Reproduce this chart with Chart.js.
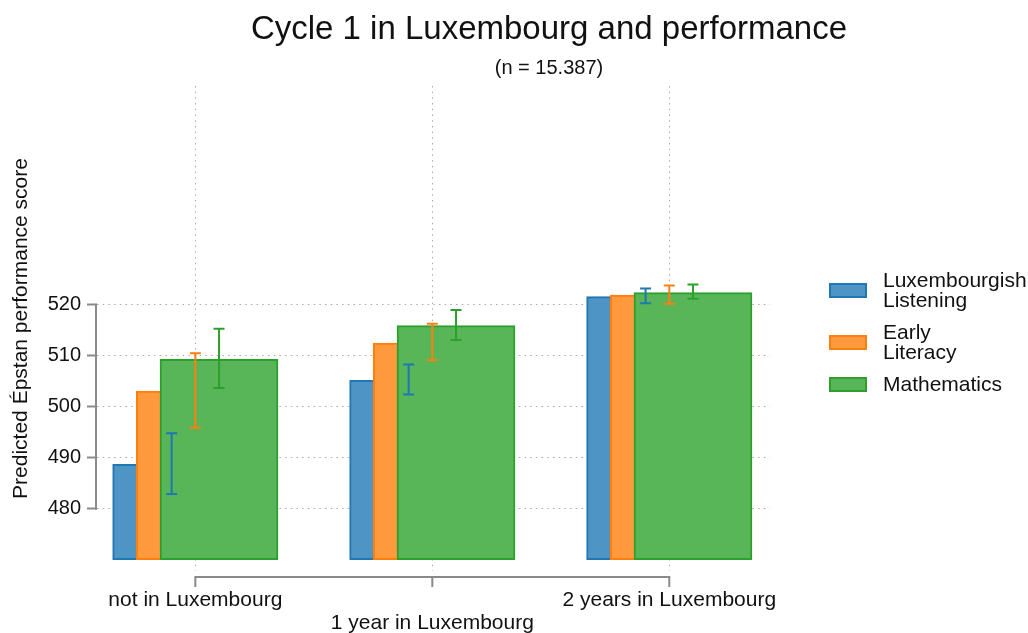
<!DOCTYPE html>
<html>
<head>
<meta charset="utf-8">
<title>Cycle 1 in Luxembourg and performance</title>
<script src="https://cdn.jsdelivr.net/npm/chart.js@4/dist/chart.umd.min.js"></script>
<style>
  body { margin: 0; background: #fff; font-family: "Liberation Sans", Arial, sans-serif; color: #111; }
  #wrap { position: relative; width: 1028px; height: 633px; overflow: hidden; }
  #chart { position: absolute; left: 0; top: 0; }
  #title { position: absolute; left: 49px; width: 1000px; top: 11px; text-align: center; font-size: 33px; line-height: 33px; }
  #subtitle { position: absolute; left: 49px; width: 1000px; top: 57px; text-align: center; font-size: 20px; line-height: 20px; }
  #legend { position: absolute; left: 829px; top: 270px; }
  .item { display: flex; align-items: center; margin-bottom: 12px; }
  .swatch { width: 34px; height: 11px; border: 2px solid; margin-right: 16px; }
  .label { font-size: 21px; line-height: 20px; }
</style>
</head>
<body>
<div id="wrap">
  <canvas id="chart" width="1028" height="633"></canvas>
  <div id="title">Cycle 1 in Luxembourg and performance</div>
  <div id="subtitle">(n = 15.387)</div>
  <div id="legend"></div>
</div>
<script>
// groups on the x axis
const categories = ["not in Luxembourg", "1 year in Luxembourg", "2 years in Luxembourg"];

// predicted scores per domain
const listening = [488.7, 505.2, 521.6];
const literacy = [503.1, 512.5, 521.9];
const maths = [509.3, 515.9, 522.4];

// confidence intervals [low, high]
const listeningCI = [[482.9, 494.8], [502.4, 508.3], [520.3, 523.2]];
const literacyCI = [[495.9, 510.5], [509.1, 516.3], [520.2, 523.8]];
const mathsCI = [[503.7, 515.3], [513.1, 519.0], [521.2, 524.0]];

const yTicks = [480, 490, 500, 510, 520];

const legendLabels = [["Luxembourgish", "Listening"], ["Early", "Literacy"], ["Mathematics"]];

// bars inside a group are shifted a little and overlap
const shift = [-0.1, 0, 0.1];
function points(values, k) {
  return values.map((v, i) => ({ x: i + shift[k], y: v }));
}

Chart.defaults.font.family = '"Liberation Sans", Arial, sans-serif';
Chart.defaults.color = "#111";

const series = [
  { label: "Luxembourgish Listening", values: listening, ci: listeningCI, fill: "#4e94c5", line: "#1f77b4" },
  { label: "Early Literacy", values: literacy, ci: literacyCI, fill: "#ff993e", line: "#ff7f0e" },
  { label: "Mathematics", values: maths, ci: mathsCI, fill: "#58b558", line: "#2ca02c" }
];

// Error bars on top of the bars
const errorBars = {
  id: "errorBars",
  afterDatasetsDraw(chart) {
    const ctx = chart.ctx;
    const y = chart.scales.y;
    chart.data.datasets.forEach((ds, k) => {
      const meta = chart.getDatasetMeta(k);
      ctx.save();
      ctx.strokeStyle = ds.borderColor;
      ctx.lineWidth = 2;
      meta.data.forEach((bar, i) => {
        const lo = y.getPixelForValue(ds.ci[i][0]);
        const hi = y.getPixelForValue(ds.ci[i][1]);
        ctx.beginPath();
        ctx.moveTo(bar.x, lo);
        ctx.lineTo(bar.x, hi);
        ctx.moveTo(bar.x - 5.5, lo);
        ctx.lineTo(bar.x + 5.5, lo);
        ctx.moveTo(bar.x - 5.5, hi);
        ctx.lineTo(bar.x + 5.5, hi);
        ctx.stroke();
      });
      ctx.restore();
    });
  }
};

// Stata style axis lines: only between the outer ticks
const axisLines = {
  id: "axisLines",
  afterDraw(chart) {
    const { ctx, chartArea } = chart;
    const x = chart.scales.x;
    const y = chart.scales.y;
    ctx.save();
    ctx.strokeStyle = "#8a8a8a";
    ctx.lineWidth = 2;
    ctx.beginPath();
    const ax = chartArea.left - 1;
    ctx.moveTo(ax, y.getPixelForValue(yTicks[0]) + 1);
    ctx.lineTo(ax, y.getPixelForValue(yTicks[yTicks.length - 1]) - 1);
    const ay = chartArea.bottom + 6;
    ctx.moveTo(x.getPixelForValue(0) - 1, ay);
    ctx.lineTo(x.getPixelForValue(categories.length - 1) + 1, ay);
    categories.forEach((c, i) => {
      const px = x.getPixelForValue(i);
      ctx.moveTo(px, ay);
      ctx.lineTo(px, ay + 10);
    });
    ctx.stroke();
    ctx.restore();
  }
};

new Chart(document.getElementById("chart"), {
  type: "bar",
  data: {
    datasets: series.map((s, k) => ({
      label: s.label,
      data: points(s.values, k),
      ci: s.ci,
      backgroundColor: s.fill,
      borderColor: s.line,
      borderWidth: 2,
      borderSkipped: false,
      base: 470,
      grouped: false,
      barThickness: 118,
      order: 3 - k
    }))
  },
  options: {
    responsive: false,
    animation: false,
    layout: { padding: { left: 0, right: 258, top: 86, bottom: 0 } },
    plugins: {
      legend: { display: false },
      tooltip: { enabled: false }
    },
    scales: {
      x: {
        type: "linear",
        offset: false,
        min: -0.415,
        max: 2.425,
        afterBuildTicks: (scale) => { scale.ticks = categories.map((c, i) => ({ value: i })); },
        afterFit: (scale) => { scale.height = 62; },
        ticks: {
          autoSkip: false,
          maxRotation: 0,
          padding: 18,
          font: { size: 21, lineHeight: 1.1 },
          color: "#111",
          callback: (v) => (v === 1 ? ["", categories[1]] : categories[v])
        },
        grid: { offset: false, color: "#aaaaaa", lineWidth: 1, drawTicks: false },
        border: { display: false, dash: [1.5, 4.2] }
      },
      y: {
        min: 467.8,
        max: 562.9,
        afterBuildTicks: (scale) => { scale.ticks = yTicks.map(v => ({ value: v })); },
        afterFit: (scale) => { scale.width = 97; },
        ticks: { padding: 6, font: { size: 20 }, color: "#111" },
        grid: {
          color: "#aaaaaa",
          lineWidth: 1,
          tickLength: 10,
          tickColor: "#8a8a8a",
          tickWidth: 2,
          tickBorderDash: []
        },
        border: { display: false, dash: [1.5, 4.2] },
        title: {
          display: true,
          text: "Predicted Épstan performance score",
          font: { size: 21 },
          color: "#111",
          padding: { top: 9, bottom: 0 }
        }
      }
    }
  },
  plugins: [errorBars, axisLines]
});

// Legend with the same colours as the bars
const legend = document.getElementById("legend");
series.forEach((s, k) => {
  const item = document.createElement("div");
  item.className = "item";
  item.innerHTML = `
    <div class="swatch" style="background:${s.fill};border-color:${s.line}"></div>
    <div class="label">${legendLabels[k].join("<br>")}</div>
  `;
  legend.appendChild(item);
});
</script>
</body>
</html>
